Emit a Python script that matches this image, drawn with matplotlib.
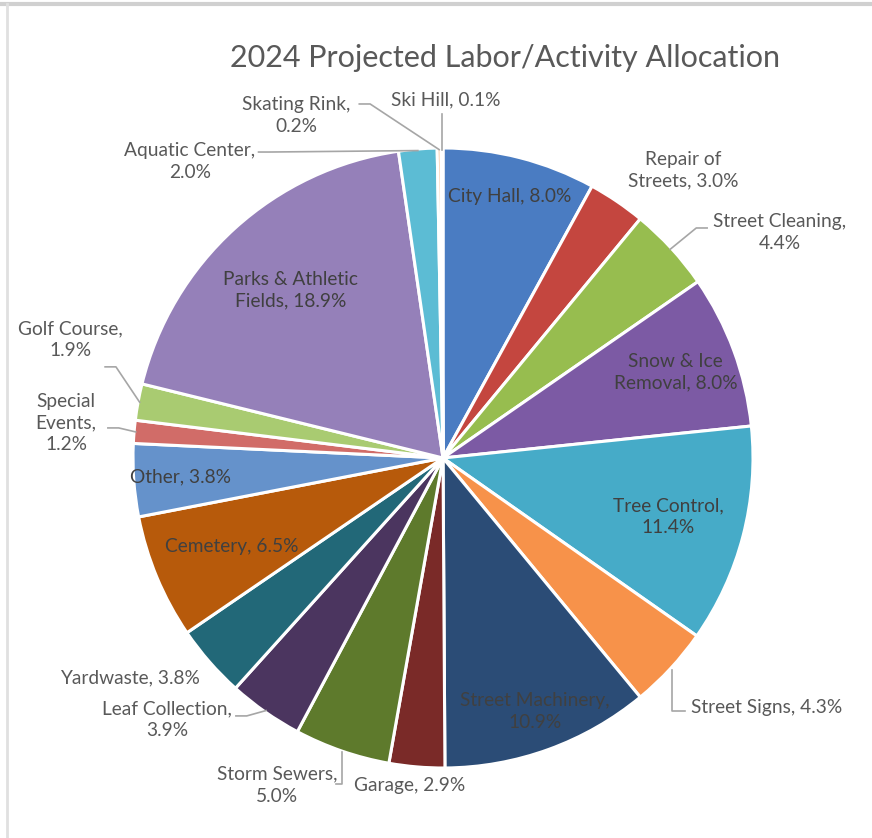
import numpy as np
import matplotlib.pyplot as plt
from matplotlib.lines import Line2D

# activity shares, clockwise from 12 o'clock
activities = ['City Hall', 'Repair of Streets', 'Street Cleaning', 'Snow & Ice Removal',
              'Tree Control', 'Street Signs', 'Street Machinery', 'Garage', 'Storm Sewers',
              'Leaf Collection', 'Yardwaste', 'Cemetery', 'Other', 'Special Events',
              'Golf Course', 'Parks & Athletic Fields', 'Aquatic Center', 'Skating Rink', 'Ski Hill']
shares = [8.0, 3.0, 4.4, 8.0, 11.4, 4.3, 10.9, 2.9, 5.0, 3.9, 3.8, 6.5, 3.8, 1.2, 1.9, 18.9, 2.0, 0.2, 0.1]

# label text as shown on the chart (line breaks included)
label_text = ['City Hall, 8.0%', 'Repair of\nStreets, 3.0%', 'Street Cleaning,\n4.4%',
              'Snow & Ice\nRemoval, 8.0%', 'Tree Control,\n11.4%', 'Street Signs, 4.3%',
              'Street Machinery,\n10.9%', 'Garage, 2.9%', 'Storm Sewers,\n5.0%',
              'Leaf Collection,\n3.9%', 'Yardwaste, 3.8%', 'Cemetery, 6.5%', 'Other, 3.8%',
              'Special\nEvents,\n1.2%', 'Golf Course,\n1.9%', 'Parks & Athletic\nFields, 18.9%',
              'Aquatic Center,\n2.0%', 'Skating Rink,\n0.2%', 'Ski Hill, 0.1%']

colors = ['#4a7cc2', '#c4463f', '#97bd4f', '#7c5aa4', '#46abc8', '#f7924a',
          '#2b4c76', '#7a2a28', '#5e7a2c', '#4b355f', '#226878', '#b75a0b',
          '#6592cb', '#d16c68', '#a9cb71', '#9580b9', '#5cbcd4', '#f9a868', '#3a5f8b']

# label placement in data units (pie radius = 1):
#   ('in', r)                  -> centred in the wedge at radius r
#   ('out', x, y, start)       -> outside; start = where the leader leaves the text
#                                 (None = no leader), leader runs to the wedge rim
placement = {
    'City Hall': ('in', 0.87),
    'Repair of Streets': ('out', 0.774, 0.929, None),
    'Street Cleaning': ('out', 1.085, 0.726, (0.852, 0.742)),
    'Snow & Ice Removal': ('in', 0.80),
    'Tree Control': ('in', 0.75),
    'Street Signs': ('out', 1.045, -0.806, 'elbow'),
    'Street Machinery': ('in', 0.87),
    'Garage': ('out', -0.108, -1.055, None),
    'Storm Sewers': ('out', -0.535, -1.055, 'elbow'),
    'Leaf Collection': ('out', -0.89, -0.845, (-0.668, -0.832)),
    'Yardwaste': ('out', -1.01, -0.71, None),
    'Cemetery': ('in', 0.74),
    'Other': ('in', 0.85),
    'Special Events': ('out', -1.216, 0.113, (-1.081, 0.097)),
    'Golf Course': ('out', -1.203, 0.381, (-1.090, 0.294)),
    'Parks & Athletic Fields': ('in', 0.73),
    'Aquatic Center': ('out', -0.816, 0.955, (-0.595, 0.987)),
    'Skating Rink': ('out', -0.474, 1.106, (-0.270, 1.142)),
    'Ski Hill': ('out', 0.01, 1.155, 'vertical'),
}

# corner leaders (x, y) polylines
elbows = {
    'Street Signs': ([0.739, 0.739, 0.781], [-0.684, -0.816, -0.816]),
    'Storm Sewers': ([-0.345, -0.325, -0.325], [-1.052, -1.052, -0.948]),
}

plt.rcParams['font.family'] = ['Lato', 'DejaVu Sans']
txt_col = '#595959'
lead_col = '#a6a6a6'
fs = 13.8

fig = plt.figure(figsize=(8.72, 8.38), dpi=100)
ax = fig.add_axes([0, 0, 1, 1])

wedges, _ = ax.pie(shares, colors=colors, startangle=90, counterclock=False, radius=1.0,
                   wedgeprops=dict(edgecolor='white', linewidth=2.2))

# pie() resets limits/aspect, so set the canvas mapping afterwards
ax.set_aspect('auto')
ax.set_xlim(-443 / 310, 429 / 310)
ax.set_ylim(-380 / 310, 458 / 310)
ax.axis('off')

for w, name, txt in zip(wedges, activities, label_text):
    mid = np.deg2rad((w.theta1 + w.theta2) / 2)
    p = placement[name]
    if p[0] == 'in':
        r = p[1]
        ax.text(r * np.cos(mid), r * np.sin(mid), txt, ha='center', va='center',
                fontsize=fs, color='#404040', linespacing=1.35)
        continue

    x, y, start = p[1], p[2], p[3]
    ax.text(x, y, txt, ha='center', va='center', fontsize=fs, color=txt_col,
            linespacing=1.35)
    if start is None:
        continue
    ex, ey = 0.995 * np.cos(mid), 0.995 * np.sin(mid)
    if start == 'vertical':
        ax.plot([ex, ex], [ey, y - 0.045], color=lead_col, lw=1.2)
    elif start == 'elbow':
        ax.plot(*elbows[name], color=lead_col, lw=1.2)
    else:
        sx, sy = start
        hx = sx + (0.035 if sx < ex else -0.035)
        ax.plot([sx, hx, ex], [sy, sy, ey], color=lead_col, lw=1.2)

ax.text(0.2, 1.29, '2024 Projected Labor/Activity Allocation', ha='center', va='center',
        fontsize=22, color='#595959')

# light frame along the top and left edges
fig.add_artist(Line2D([0, 1], [0.995, 0.995], transform=fig.transFigure, color='#d0d0d0', lw=3))
fig.add_artist(Line2D([0.008, 0.008], [0, 0.995], transform=fig.transFigure, color='#e0e0e0', lw=2))

fig.savefig('out.png', dpi=100)
